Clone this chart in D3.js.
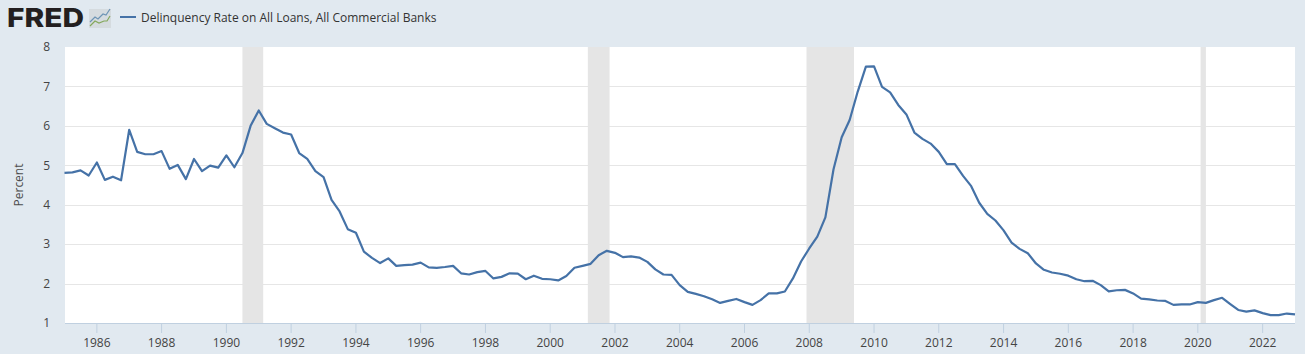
<!DOCTYPE html>
<html>
<head>
<meta charset="utf-8">
<script src="https://cdn.jsdelivr.net/npm/d3@7"></script>
<style>
  html, body { margin: 0; padding: 0; background: #e1e9f0; }
  svg { display: block; }
  text { font-family: "Open Sans", sans-serif; }
</style>
</head>
<body>
<div id="chart"></div>
<script>
// Series, quarterly, starting 1985-01-01
const seriesName = "Delinquency Rate on All Loans, All Commercial Banks";
const yLabel = "Percent";
const startYear = 1985;
const rates = [
  4.81, 4.82, 4.87, 4.74, 5.07, 4.63, 4.71, 4.62,
  5.90, 5.34, 5.28, 5.28, 5.36, 4.91, 5.01, 4.65,
  5.16, 4.85, 4.99, 4.94, 5.25, 4.95, 5.31, 6.00,
  6.39, 6.05, 5.94, 5.83, 5.78, 5.31, 5.16, 4.85,
  4.70, 4.12, 3.83, 3.38, 3.29, 2.81, 2.65, 2.52,
  2.64, 2.45, 2.47, 2.48, 2.53, 2.41, 2.40, 2.42,
  2.45, 2.26, 2.23, 2.29, 2.32, 2.13, 2.17, 2.26,
  2.25, 2.11, 2.20, 2.12, 2.11, 2.08, 2.19, 2.40,
  2.45, 2.50, 2.72, 2.83, 2.78, 2.67, 2.69, 2.66,
  2.55, 2.36, 2.23, 2.22, 1.96, 1.79, 1.74, 1.68,
  1.60, 1.51, 1.56, 1.61, 1.53, 1.46, 1.58, 1.75,
  1.75, 1.80, 2.13, 2.56, 2.89, 3.19, 3.68, 4.90,
  5.71, 6.15, 6.87, 7.50, 7.51, 6.99, 6.85, 6.53,
  6.29, 5.83, 5.67, 5.55, 5.34, 5.03, 5.03, 4.73,
  4.47, 4.05, 3.77, 3.60, 3.35, 3.04, 2.88, 2.77,
  2.51, 2.35, 2.28, 2.25, 2.20, 2.11, 2.06, 2.07,
  1.96, 1.80, 1.83, 1.84, 1.75, 1.62, 1.60, 1.57,
  1.56, 1.46, 1.47, 1.47, 1.53, 1.51, 1.58, 1.64,
  1.48, 1.33, 1.29, 1.32, 1.25, 1.20, 1.20, 1.24,
  1.22
];
const recessionStarts = ["1990-07-01", "2001-03-01", "2007-12-01", "2020-02-01"];
const recessionEnds = ["1991-02-20", "2001-11-01", "2009-05-20", "2020-04-01"];
const yTicks = [1, 2, 3, 4, 5, 6, 7, 8];
const xTickYears = d3.range(1986, 2023, 2);

const totalWidth = 1305;
const totalHeight = 354;
const margin = { top: 47, right: 10, bottom: 31, left: 65 };
const width = totalWidth - margin.left - margin.right;
const height = totalHeight - margin.top - margin.bottom;

const dates = rates.map((d, i) => new Date(Date.UTC(startYear, i * 3, 1)));

const xScale = d3.scaleUtc()
  .domain([new Date(Date.UTC(1985, 0, 1)), new Date(Date.UTC(2023, 0, 1))])
  .range([-0.5, width]);
const yScale = d3.scaleLinear().domain([1, 8]).range([height, 0]);

const root = d3.select("#chart").append("svg")
  .attr("width", totalWidth)
  .attr("height", totalHeight);

// Logo
const logo = root.append("g");
logo.append("text")
  .attr("x", 7).attr("y", 27)
  .attr("font-size", 26).attr("font-weight", 800)
  .attr("textLength", 77)
  .attr("lengthAdjust", "spacingAndGlyphs")
  .attr("fill", "#231f20")
  .style("font-family", "Inter, 'Open Sans', sans-serif")
  .text("FRED");
logo.append("rect")
  .attr("x", 89).attr("y", 9).attr("width", 22).attr("height", 19)
  .attr("fill", "#d5dbdf");
logo.append("path")
  .attr("d", "M90 22 L95 17 L98 19 L103 14 L106 15 L110 9")
  .attr("fill", "none").attr("stroke", "#6d94b5").attr("stroke-width", 1.2);
logo.append("path")
  .attr("d", "M90 26 L95 21 L99 23 L104 21 L107 21 L110 16")
  .attr("fill", "none").attr("stroke", "#84a85c").attr("stroke-width", 1.2);

// Legend
root.append("line")
  .attr("x1", 120).attr("x2", 136)
  .attr("y1", 17).attr("y2", 17)
  .attr("stroke", "#4572a7").attr("stroke-width", 2);
root.append("text")
  .attr("x", 141).attr("y", 22)
  .attr("font-size", 12).attr("fill", "#333333")
  .text(seriesName);

const svg = root.append("g")
  .attr("transform", "translate(" + margin.left + "," + margin.top + ")");

// Plot background
svg.append("rect")
  .attr("width", width).attr("height", height)
  .attr("fill", "#ffffff");

// Gridlines
svg.append("g")
  .selectAll("line")
  .data(yTicks.slice(1, -1))
  .join("line")
  .attr("x1", 0).attr("x2", width)
  .attr("y1", (d) => Math.round(yScale(d)) + 0.5)
  .attr("y2", (d) => Math.round(yScale(d)) + 0.5)
  .attr("stroke", "#e6e6e6");

// Recession bars
svg.append("g")
  .selectAll("rect")
  .data(recessionStarts)
  .join("rect")
  .attr("x", (d) => xScale(new Date(d)))
  .attr("width", (d, i) => xScale(new Date(recessionEnds[i])) - xScale(new Date(d)))
  .attr("y", 0)
  .attr("height", height)
  .attr("fill", "#e5e5e5");

// X axis
const xAxis = d3.axisBottom(xScale)
  .tickValues(xTickYears.map((y) => new Date(Date.UTC(y, 0, 1))))
  .tickFormat(d3.utcFormat("%Y"))
  .tickSize(10)
  .tickPadding(5)
  .offset(0);
const xAxisG = svg.append("g")
  .attr("transform", "translate(0," + height + ")")
  .call(xAxis);
xAxisG.selectAll("line").attr("stroke", "#c0d0e0");
xAxisG.select(".domain").attr("stroke", "#c0d0e0").attr("d", "M0,0.5H" + width);
xAxisG.selectAll("text")
  .style("font-family", "'Open Sans', sans-serif")
  .attr("font-size", 12)
  .attr("fill", "#444444");

// Y axis
const yAxis = d3.axisLeft(yScale)
  .tickValues(yTicks)
  .tickFormat(d3.format("d"))
  .tickSize(0)
  .tickPadding(15);
const yAxisG = svg.append("g").call(yAxis);
yAxisG.select(".domain").remove();
yAxisG.selectAll("text")
  .style("font-family", "'Open Sans', sans-serif")
  .attr("font-size", 12)
  .attr("fill", "#444444");

root.append("text")
  .attr("transform", "translate(23,185) rotate(-90)")
  .attr("text-anchor", "middle")
  .attr("font-size", 12)
  .attr("fill", "#4d4d4d")
  .text(yLabel);

// Line
const line = d3.line()
  .x((d, i) => xScale(dates[i]))
  .y((d) => yScale(d));
svg.append("path")
  .datum(rates)
  .attr("d", line)
  .attr("fill", "none")
  .attr("stroke", "#4572a7")
  .attr("stroke-width", 2.2)
  .attr("stroke-linejoin", "round");
</script>
</body>
</html>
